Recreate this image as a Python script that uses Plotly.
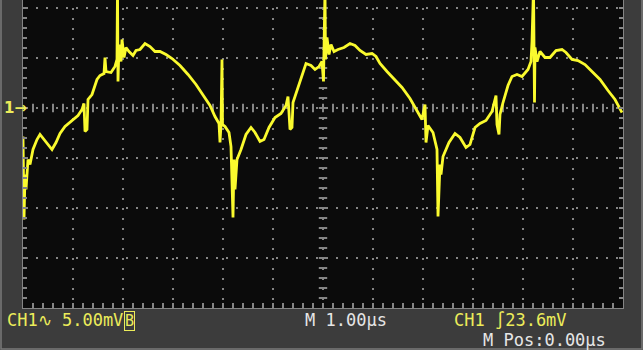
import numpy as np
import plotly.graph_objects as go

# Channel 1 record: time in microseconds, amplitude in millivolts
# (1.00 µs/div horizontally, 5.00 mV/div vertically, ground marker at 0 mV)
time_us = [
    -6.00, -5.99, -5.98, -5.96, -5.94, -5.90, -5.86, -5.80, -5.72, -5.66,
    -5.58, -5.50, -5.42, -5.34, -5.26, -5.16, -5.06, -4.98, -4.90, -4.82,
    -4.78, -4.76, -4.72, -4.70, -4.62, -4.52, -4.46, -4.38, -4.36, -4.34,
    -4.24, -4.16, -4.12, -4.11, -4.10, -4.08, -4.04, -4.02, -3.98, -3.94,
    -3.88, -3.80, -3.74, -3.66, -3.56, -3.46, -3.36, -3.26, -3.14, -3.02,
    -2.86, -2.70, -2.54, -2.38, -2.26, -2.16, -2.08, -2.06, -2.04, -2.02,
    -2.01, -1.96, -1.88, -1.84, -1.82, -1.80, -1.78, -1.76, -1.72, -1.64,
    -1.54, -1.44, -1.36, -1.26, -1.18, -1.08, -0.96, -0.84, -0.74, -0.70,
    -0.66, -0.62, -0.60, -0.50, -0.40, -0.34, -0.24, -0.16, -0.08, -0.02,
    0.01, 0.03, 0.04, 0.05, 0.08, 0.12, 0.16, 0.22, 0.30, 0.42,
    0.54, 0.64, 0.74, 0.86, 0.98, 1.06, 1.14, 1.28, 1.44, 1.58,
    1.74, 1.88, 1.98, 2.04, 2.06, 2.10, 2.20, 2.28, 2.30, 2.34,
    2.36, 2.40, 2.52, 2.64, 2.74, 2.86, 2.94, 3.04, 3.14, 3.26,
    3.38, 3.46, 3.48, 3.52, 3.54, 3.60, 3.70, 3.78, 3.88, 3.98,
    4.10, 4.16, 4.18, 4.21, 4.23, 4.24, 4.28, 4.34, 4.44, 4.54,
    4.66, 4.78, 4.86, 4.98, 5.10, 5.24, 5.38, 5.54, 5.70, 5.84,
    5.98,
]
ch1_mv = [
    -2.85, -9.15, -11.15, -6.65, -8.15, -5.15, -5.65, -4.15, -3.15, -2.65,
    -3.15, -3.75, -4.15, -3.45, -2.55, -1.85, -1.45, -1.15, -0.75, -0.15,
    0.45, -2.35, -2.15, 0.85, 1.35, 2.85, 3.25, 3.45, 5.05, 3.65,
    3.55, 4.15, 4.85, 12.00, 2.65, 6.35, 4.65, 6.85, 5.05, 6.05,
    5.65, 5.25, 5.75, 5.85, 6.45, 6.15, 5.65, 5.65, 5.35, 4.95,
    4.25, 3.35, 2.35, 1.15, 0.25, -0.85, -1.55, -3.45, -1.65, 4.85,
    -1.65, -1.85, -2.45, -3.85, -8.15, -10.95, -5.15, -8.15, -5.15, -4.15,
    -2.65, -1.95, -2.45, -3.35, -3.15, -1.95, -0.95, -0.55, 0.25, 1.15,
    -2.15, -1.95, 0.55, 2.05, 3.35, 4.45, 4.25, 3.85, 4.15, 4.65,
    2.65, 6.85, 12.00, 4.85, 7.05, 5.35, 6.35, 5.65, 5.85, 6.05,
    6.45, 6.25, 5.75, 5.35, 5.45, 5.15, 4.45, 3.65, 2.85, 2.05,
    0.95, -0.35, -1.15, 0.35, -3.45, -1.75, -2.45, -4.15, -10.85, -5.65,
    -6.65, -4.85, -3.45, -2.55, -2.95, -3.95, -3.65, -1.95, -1.55, -1.25,
    -0.35, 1.25, -1.65, -2.65, -0.65, 0.55, 2.25, 3.15, 3.35, 3.15,
    3.85, 4.65, 6.65, 12.00, 0.55, 6.05, 4.65, 5.65, 5.05, 5.05,
    5.75, 5.85, 5.55, 4.85, 4.75, 4.35, 3.65, 2.85, 1.75, 0.85,
    -0.45,
]

# Screen readouts
ch1_scale = "CH1∿ 5.00mV"
bw_flag = "B"
timebase = "M 1.00µs"
trigger = "CH1 ∫23.6mV"
h_position = "M Pos:0.00µs"
ground_marker = "1→"

X_RANGE = [-6.0, 6.0]
Y_RANGE = [-20.0, 10.8]

TRACE = "#fafa2e"
READ_YELLOW = "#ecec5a"
READ_WHITE = "#e6e6e6"
GRID = "#858585"
BEZEL = "#3c3c3c"
SCREEN = "#0b0b0b"

fig = go.Figure()

# Center graticule tick marks (every 0.2 division)
cx = np.round(np.arange(-5.8, 5.81, 0.2), 2)
fig.add_trace(go.Scatter(
    x=cx, y=np.zeros_like(cx), mode="markers", hoverinfo="skip",
    marker=dict(symbol="line-ns", size=6, line=dict(width=2, color=GRID)),
    showlegend=False,
))
cy = np.arange(-19.0, 10.5, 1.0)
fig.add_trace(go.Scatter(
    x=np.zeros_like(cy), y=cy, mode="markers", hoverinfo="skip",
    marker=dict(symbol="line-ew", size=6, line=dict(width=2, color=GRID)),
    showlegend=False,
))

# Waveform
fig.add_trace(go.Scatter(
    x=time_us, y=ch1_mv, mode="lines",
    line=dict(color=TRACE, width=2.8),
    showlegend=False,
))

fig.update_xaxes(
    range=X_RANGE, dtick=1, tick0=0, showticklabels=False,
    showgrid=True, gridcolor=GRID, gridwidth=2, griddash="0px,8px,2px,0px",
    zeroline=False, showline=True, linecolor=GRID, linewidth=1, mirror=False,
    ticks="inside", ticklen=5, tickwidth=2, tickcolor=GRID,
    minor=dict(dtick=0.2, tick0=0, ticks="inside", ticklen=5, tickwidth=2,
               tickcolor=GRID, showgrid=False),
    fixedrange=True,
)
fig.update_yaxes(
    range=Y_RANGE, dtick=5, tick0=0, showticklabels=False,
    showgrid=True, gridcolor=GRID, gridwidth=2, griddash="0px,3px,2px,5px",
    zeroline=False, showline=True, linecolor=GRID, linewidth=1, mirror="ticks",
    ticks="inside", ticklen=4, tickwidth=2, tickcolor=GRID,
    minor=dict(dtick=1, tick0=0, ticks="inside", ticklen=4, tickwidth=2,
               tickcolor=GRID, showgrid=False),
    fixedrange=True,
)

W, H = 643, 350
ML, MR, MT, MB = 23, 20, 0, 42
PW, PH = W - ML - MR, H - MT - MB


def px_x(p):
    return (p - ML) / PW


def px_y(p):
    return (MT + PH - p) / PH


font = dict(family="DejaVu Sans Mono", size=17)

annotations = [
    dict(text=ch1_scale, x=px_x(6), y=px_y(320), xanchor="left", yanchor="middle",
         font=dict(font, color=READ_YELLOW)),
    dict(text=bw_flag, x=px_x(123.5), y=px_y(320.5), xanchor="left", yanchor="middle",
         font=dict(family="DejaVu Sans Mono", size=15, color=READ_YELLOW),
         bordercolor=READ_YELLOW, borderwidth=1, borderpad=0),
    dict(text=timebase, x=px_x(304), y=px_y(320), xanchor="left", yanchor="middle",
         font=dict(font, color=READ_WHITE)),
    dict(text=trigger, x=px_x(453), y=px_y(320), xanchor="left", yanchor="middle",
         font=dict(font, color=READ_YELLOW)),
    dict(text=h_position, x=px_x(482), y=px_y(340), xanchor="left", yanchor="middle",
         font=dict(font, color=READ_WHITE)),
    dict(text=ground_marker, x=px_x(3), y=px_y(108), xanchor="left", yanchor="middle",
         font=dict(family="DejaVu Sans", size=15, color=READ_YELLOW, weight="bold")),
]
for a in annotations:
    a.update(xref="paper", yref="paper", showarrow=False)
    a.setdefault("borderpad", 0)

fig.update_layout(
    width=W, height=H,
    margin=dict(l=ML, r=MR, t=MT, b=MB),
    paper_bgcolor=BEZEL, plot_bgcolor=SCREEN,
    annotations=annotations,
    shapes=[
        dict(type="path", xref="paper", yref="paper",
             path=f"M {px_x(1)} {px_y(0)} L {px_x(1)} {px_y(349)} "
                  f"L {px_x(642)} {px_y(349)} L {px_x(642)} {px_y(0)}",
             line=dict(color="#7a7a7a", width=1.5), layer="above"),
    ],
)

fig.write_html("out.html")
